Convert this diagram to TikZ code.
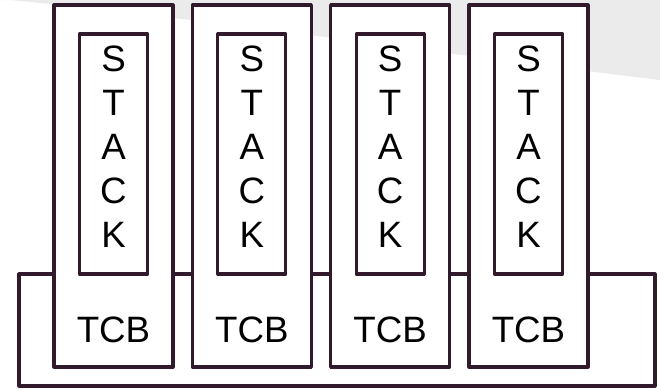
\documentclass[tikz,border=0pt]{standalone}
\usepackage{fontspec}
\setmainfont{Liberation Sans}
\definecolor{cplum}{RGB}{48,26,44}
\definecolor{cswoosh}{RGB}{235,235,235}
\tikzset{taskpic/.style={x=1bp,y=-1bp,line width=3.2bp,line join=round}}
\tikzset{basebox/.style={draw=cplum,fill=white,minimum width=636bp,minimum height=112bp,inner sep=0pt},
         colbox/.style={draw=cplum,fill=white,minimum width=119bp,minimum height=362bp,inner sep=0pt},
         stackbox/.style={draw=cplum,fill=white,minimum width=68bp,minimum height=240bp,inner sep=0pt},
         letters/.style={align=center,inner sep=0pt,font=\fontsize{36.7bp}{44bp}\selectfont},
         tcbtext/.style={anchor=base,inner sep=0pt,font=\fontsize{36.7bp}{44bp}\selectfont}}

\begin{document}
\begin{tikzpicture}[taskpic]
    \useasboundingbox (0,0) rectangle (660,388);
    \fill[cswoosh] (0,0) -- (10,0) .. controls (200,18) and (450,55) .. (660,80) -- (660,0) -- cycle;
    \node[basebox] (base) at (337,330) {};
    \foreach \i in {1,...,4} {
      \pgfmathsetmacro{\cx}{113.5+(\i-1)*138.33}
      \node[colbox] (col\i) at (\cx,186) {};
      \node[stackbox] (stack\i) at (\cx,154) {};
      \node[letters] (stk\i) at (\cx,146.5) {S\\T\\A\\C\\K};
      \node[tcbtext] (tcb\i) at (\cx,342) {TCB};
    }
  \end{tikzpicture}
\end{document}
